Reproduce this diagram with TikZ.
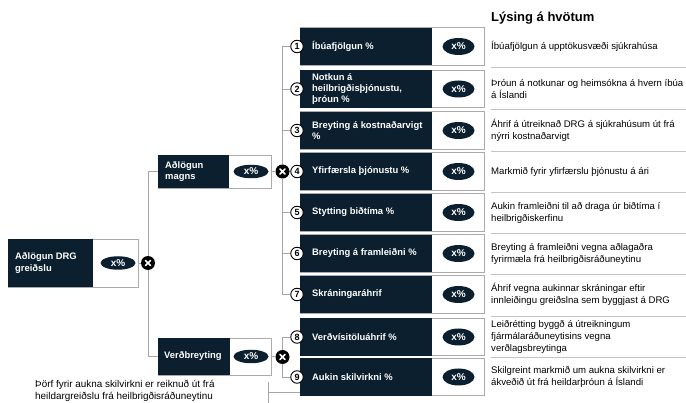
\documentclass[tikz,border=0pt]{standalone}
\usepackage{fontspec}
\setmainfont{Liberation Sans}
\usetikzlibrary{backgrounds,shapes.geometric}
\definecolor{navy}{HTML}{0B1F2E}
\definecolor{frameg}{HTML}{ABABAB}
\definecolor{lineg}{HTML}{A6A6A6}
\definecolor{sepg}{HTML}{C4C4C4}
\tikzset{
  frame/.style={draw=frameg, line width=0.8pt, fill=white, inner sep=0pt},
  dark/.style={fill=navy, inner sep=0pt},
  lbl/.style={text=white, font=\fontsize{9.4}{11.4}\selectfont\bfseries, align=left, inner sep=0pt},
  pct/.style={ellipse, fill=navy, text=white, font=\fontsize{10}{11}\selectfont\bfseries, inner sep=0pt, minimum width=32pt, minimum height=17pt},
  pctl/.style={pct, minimum width=35pt, minimum height=13.5pt},
  numc/.style={circle, draw=black, line width=0.9pt, fill=white, inner sep=0pt, minimum size=12.5pt, font=\fontsize{9}{9}\selectfont\bfseries},
  xcirc/.style={circle, fill=black, inner sep=0pt, minimum size=14pt,
    path picture={\draw[white, line width=1.7pt, line cap=round]
      ([shift={(-2.6pt,-2.6pt)}]path picture bounding box.center) -- ([shift={(2.6pt,2.6pt)}]path picture bounding box.center)
      ([shift={(-2.6pt,2.6pt)}]path picture bounding box.center) -- ([shift={(2.6pt,-2.6pt)}]path picture bounding box.center);}},
  desc/.style={font=\fontsize{9.6}{12}\selectfont, align=left, inner sep=0pt, anchor=west},
  conn/.style={draw=lineg, line width=0.8pt},
  sep/.style={draw=sepg, line width=0.8pt}
}
\newcommand\rowbox[5]{%
  \node[frame, minimum width=184pt, minimum height=37.5pt, anchor=west] (#1) at (300,#2) {};
  \node[dark, minimum width=132pt, minimum height=37.5pt, anchor=west] (#1d) at (300,#2) {};
  \node[lbl, anchor=west] (#1t) at (312,#2) {#4};
  \node[pct] (#1p) at (458.5,#2) {x\%};
  \node[numc] (#1n) at (297,#2) {#3};
  \node[desc] (#1s) at (491,#2) {#5};
}
\begin{document}
\begin{tikzpicture}[x=1pt,y=-1pt]
\useasboundingbox (0,0) rectangle (686,403);

% title
\node[font=\fontsize{13}{15}\selectfont\bfseries, anchor=west, inner sep=0pt] (title) at (491,18) {Lýsing á hvötum};

% right boxes
\rowbox{r1}{46.5}{1}{Íbúafjölgun \%}{Íbúafjölgun á upptökusvæði sjúkrahúsa}
\rowbox{r2}{89}{2}{Notkun á\\heilbrigðisþjónustu,\\þróun \%}{Þróun á notkunar og heimsókna á hvern íbúa\\á Íslandi}
\rowbox{r3}{130.5}{3}{Breyting á kostnaðarvigt\\\%}{Áhrif á útreiknað DRG á sjúkrahúsum út frá\\nýrri kostnaðarvigt}
\rowbox{r4}{171.5}{4}{Yfirfærsla þjónustu \%}{Markmið fyrir yfirfærslu þjónustu á ári}
\rowbox{r5}{212.5}{5}{Stytting biðtíma \%}{Aukin framleiðni til að draga úr biðtíma í\\heilbrigðiskerfinu}
\rowbox{r6}{253.5}{6}{Breyting á framleiðni \%}{Breyting á framleiðni vegna aðlagaðra\\fyrirmæla frá heilbrigðisráðuneytinu}
\rowbox{r7}{294.5}{7}{Skráningaráhrif}{Áhrif vegna aukinnar skráningar eftir\\innleiðingu greiðslna sem byggjast á DRG}
\rowbox{r8}{337}{8}{Verðvísitöluáhrif \%}{Leiðrétting byggð á útreikningum\\fjármálaráðuneytisins vegna\\verðlagsbreytinga}
\rowbox{r9}{377}{9}{Aukin skilvirkni \%}{Skilgreint markmið um aukna skilvirkni er\\ákveðið út frá heildarþróun á Íslandi}

% separators
\foreach \yy [count=\i] in {67.5,109.5,151,192,233,274,316,357} {
  \coordinate (sa\i) at (491,\yy);
  \coordinate (sb\i) at (686,\yy);
  \draw[sep] (sa\i) -- (sb\i);
}

% left boxes
\node[frame, minimum width=130pt, minimum height=48pt, anchor=west] (drg) at (8,263) {};
\node[dark, minimum width=85pt, minimum height=48pt, anchor=west] (drgd) at (8,263) {};
\node[lbl, anchor=west] (drgt) at (15,263) {Aðlögun DRG\\greiðslu};
\node[pctl] (drgp) at (118,263) {x\%};

\node[frame, minimum width=113pt, minimum height=33pt, anchor=west] (mag) at (158,171.5) {};
\node[dark, minimum width=71pt, minimum height=33pt, anchor=west] (magd) at (158,171.5) {};
\node[lbl, anchor=west] (magt) at (165,171.5) {Aðlögun\\magns};
\node[pctl] (magp) at (251,171.5) {x\%};

\node[frame, minimum width=113pt, minimum height=37pt, anchor=west] (ver) at (158,356.5) {};
\node[dark, minimum width=72pt, minimum height=37pt, anchor=west] (verd) at (158,356.5) {};
\node[lbl, anchor=west] (vert) at (164,356.5) {Verðbreyting};
\node[pctl] (verp) at (251,356.5) {x\%};

% x circles
\node[xcirc] (x1) at (148,263) {};
\node[xcirc] (x2) at (282.5,171.5) {};
\node[xcirc] (x3) at (282.5,357) {};

% annotation
\node[font=\fontsize{9.9}{12}\selectfont, align=left, inner sep=0pt, anchor=west] (note) at (35,391) {Þörf fyrir aukna skilvirkni er reiknuð út frá\\heildargreiðslu frá heilbrigðisráðuneytinu};
\coordinate (b1) at (268,382);
\coordinate (b2) at (268,405);
\coordinate (b3) at (268,392.5);

\begin{pgfonlayer}{background}
  \draw[conn] (drg.east) -- (x1);
  \draw[conn] (x1) |- (mag.west);
  \draw[conn] (x1) |- (ver.west);
  \draw[conn] (mag.east) -- (x2);
  \draw[conn] (ver.east) -- (x3);
  \foreach \k in {1,2,3,4,5,6,7} { \draw[conn] (x2) |- (r\k n); }
  \foreach \k in {8,9} { \draw[conn] (x3) |- (r\k n); }
  \draw[conn] (b1) -- (b2);
  \draw[conn] (b3) -- (r9.west |- b3);
\end{pgfonlayer}
\end{tikzpicture}
\end{document}
